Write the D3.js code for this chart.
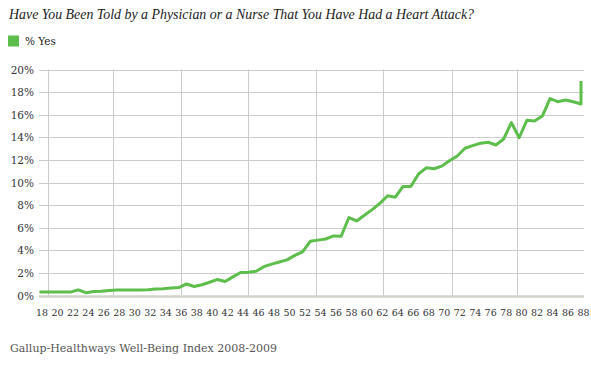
<!DOCTYPE html>
<html><head><meta charset="utf-8">
<script src="https://cdn.jsdelivr.net/npm/d3@7"></script>
<style>
body{margin:0;background:#fff;}
text{font-family:"DejaVu Serif",Georgia,serif;font-variant-numeric:oldstyle-nums;}
</style></head><body>
<svg id="chart" width="591" height="392"></svg>
<script>
const title = "Have You Been Told by a Physician or a Nurse That You Have Had a Heart Attack?";
const seriesName = "% Yes";
const source = "Gallup-Healthways Well-Being Index 2008-2009";
const ages = [18,19,20,21,22,23,24,25,26,27,28,29,30,31,32,33,34,35,36,37,38,39,40,41,42,43,44,45,46,47,48,49,50,51,52,53,54,55,56,57,58,59,60,61,62,63,64,65,66,67,68,69,70,71,72,73,74,75,76,77,78,79,80,81,82,83,84,85,86,87,88,88];
const yesPct = [0.3,0.3,0.3,0.3,0.3,0.5,0.25,0.35,0.38,0.45,0.48,0.48,0.48,0.48,0.5,0.57,0.6,0.66,0.7,1.02,0.8,0.95,1.17,1.42,1.24,1.65,2.03,2.05,2.15,2.55,2.78,2.96,3.15,3.55,3.85,4.8,4.9,5.0,5.27,5.25,6.9,6.6,7.1,7.6,8.15,8.83,8.7,9.65,9.65,10.75,11.3,11.22,11.45,11.92,12.35,13.03,13.26,13.47,13.56,13.32,13.85,15.3,13.96,15.5,15.45,15.88,17.42,17.15,17.3,17.15,16.95,18.98];
const xTickLabels = [18,20,22,24,26,28,30,32,34,36,38,40,42,44,46,48,50,52,54,56,58,60,62,64,66,68,70,72,74,76,78,80,82,84,86,88];
const yTicks = [0,2,4,6,8,10,12,14,16,18,20];
const xGridAges = [19.14,27.54,36.25,44.99,53.7,62.44,71.28,79.69];

const svg = d3.select("#chart");
const green = "#5dbe4c";
const x = d3.scaleLinear().domain([18,88]).range([39.5,581]);
const y = d3.scaleLinear().domain([0,20]).range([295.5,69.5]);
const plotLeft = 39, plotRight = 584;

// title
svg.append("text").attr("x",9).attr("y",19).attr("font-style","italic")
  .style("font-family","'Liberation Serif',serif")
  .attr("font-size",13.9).attr("fill","#222").text(title);
// legend
svg.append("rect").attr("x",8).attr("y",35.5).attr("width",11).attr("height",11).attr("fill",green);
svg.append("text").attr("x",25).attr("y",45).attr("font-size",10.5).attr("fill","#222").text(seriesName);

// horizontal grid
svg.append("g").selectAll("line").data(yTicks.filter(d=>d>0)).join("line")
  .attr("x1",plotLeft).attr("x2",plotRight)
  .attr("y1",d=>Math.round(y(d))+0.5).attr("y2",d=>Math.round(y(d))+0.5)
  .attr("stroke","#cccccc").attr("stroke-width",1);
// vertical grid
svg.append("g").selectAll("line").data(xGridAges).join("line")
  .attr("x1",d=>Math.round(x(d))+0.5).attr("x2",d=>Math.round(x(d))+0.5)
  .attr("y1",y(20)).attr("y2",y(0))
  .attr("stroke","#cccccc").attr("stroke-width",1);
// bottom axis line
svg.append("line").attr("x1",plotLeft).attr("x2",plotRight)
  .attr("y1",y(0)+1).attr("y2",y(0)+1).attr("stroke","#d3d3cb").attr("stroke-width",2.5);

// y labels
svg.append("g").selectAll("text").data(yTicks).join("text")
  .attr("x",34).attr("y",d=>y(d)+4).attr("text-anchor","end")
  .attr("font-size",10.5).attr("fill","#333").text(d=>d+"%");
// x labels
svg.append("g").selectAll("text").data(xTickLabels).join("text")
  .attr("x",d=>x(d)+2.5).attr("y",316).attr("text-anchor","middle")
  .attr("font-size",9.5).attr("fill","#333").text(d=>d);

// line
const line = d3.line().x((d,i)=>x(ages[i])).y(d=>y(d));
svg.append("path").datum(yesPct).attr("d",line).attr("fill","none")
  .attr("stroke",green).attr("stroke-width",3).attr("stroke-linejoin","round");

// source
svg.append("text").attr("x",10).attr("y",352).attr("font-size",11).attr("fill","#555").text(source);
</script></body></html>
